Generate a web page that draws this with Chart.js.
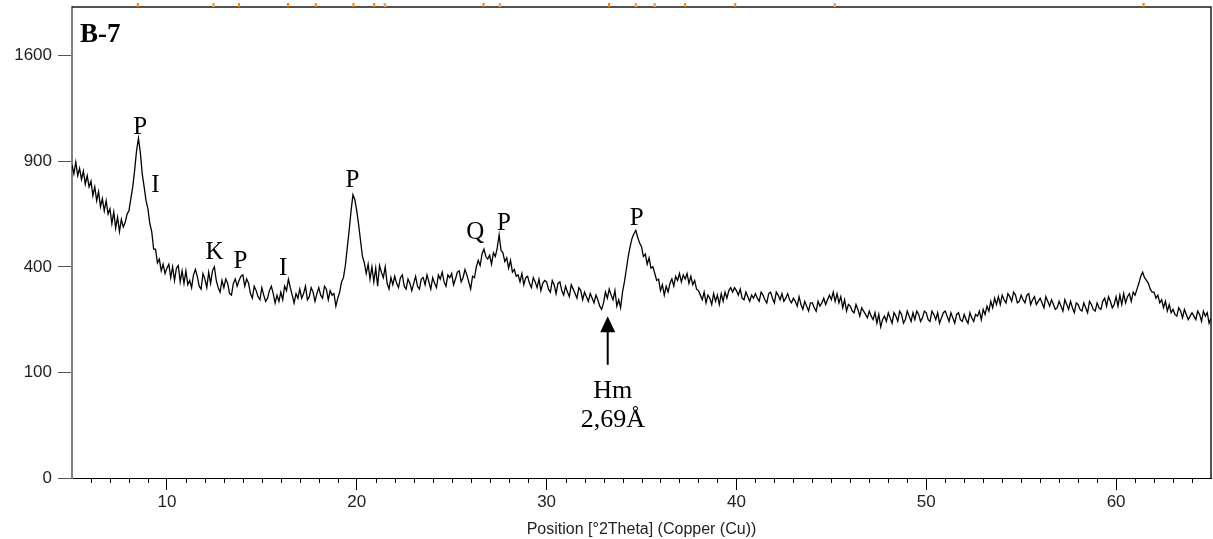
<!DOCTYPE html>
<html>
<head>
<meta charset="utf-8">
<script src="https://cdn.jsdelivr.net/npm/chart.js@4.4.1/dist/chart.umd.min.js"></script>
<style>
html, body { margin: 0; padding: 0; background: #fff; }
#wrap { width: 1213px; height: 539px; position: relative; }
</style>
</head>
<body>
<div id="wrap"><canvas id="xrdChart"></canvas></div>
<script>
// scan: 5 to 65 deg 2theta, 0.1 deg step
const startAngle = 5;
const stepAngle = 0.1;
const counts = [
  880, 830, 895, 820, 860, 800, 845, 775, 820, 760,
  790, 715, 760, 690, 735, 660, 700, 640, 690, 625,
  650, 580, 635, 560, 610, 545, 600, 565, 585, 625,
  640, 700, 760, 850, 960, 1035, 950, 830, 760, 690,
  650, 580, 545, 470, 470, 415, 430, 385, 410, 375,
  395, 410, 360, 400, 350, 395, 405, 345, 385, 340,
  385, 335, 350, 325, 370, 390, 365, 330, 320, 375,
  355, 325, 380, 340, 385, 400, 350, 325, 310, 350,
  325, 355, 340, 305, 300, 340, 355, 330, 350, 365,
  370, 330, 355, 340, 305, 290, 330, 315, 295, 285,
  325, 300, 280, 290, 315, 330, 305, 275, 300, 280,
  310, 285, 330, 315, 355, 325, 300, 275, 305, 290,
  320, 290, 305, 330, 285, 295, 325, 310, 280, 305,
  325, 300, 290, 330, 320, 285, 315, 300, 305, 265,
  290, 310, 345, 360, 405, 475, 550, 640, 720, 695,
  640, 575, 505, 440, 415, 375, 410, 355, 400, 345,
  395, 330, 405, 380, 360, 400, 340, 320, 360, 335,
  365, 340, 325, 360, 370, 330, 320, 355, 340, 315,
  340, 365, 330, 320, 355, 360, 335, 370, 345, 320,
  360, 340, 325, 370, 355, 380, 345, 330, 370, 360,
  375, 335, 355, 380, 385, 345, 360, 390, 370, 345,
  320, 365, 360, 400, 425, 405, 450, 470, 440, 430,
  445, 410, 455, 440, 475, 530, 465, 455, 420, 435,
  395, 425, 380, 390, 365, 370, 345, 375, 335, 360,
  365, 340, 325, 360, 345, 325, 355, 315, 340, 350,
  345, 320, 310, 350, 335, 305, 340, 345, 315, 300,
  330, 310, 295, 335, 320, 305, 290, 325, 315, 285,
  310, 295, 280, 305, 290, 275, 300, 285, 265, 255,
  275, 310, 290, 320, 300, 285, 315, 265, 285, 260,
  310, 345, 390, 440, 480, 515, 535, 550, 520, 495,
  480, 440, 450, 410, 435, 395, 400, 375, 350, 355,
  315, 335, 300, 330, 310, 340, 355, 330, 365, 350,
  375, 345, 370, 355, 375, 340, 365, 335, 350, 320,
  315, 300, 285, 310, 275, 300, 290, 270, 305, 280,
  300, 270, 305, 280, 310, 290, 315, 325, 310, 325,
  315, 300, 320, 290, 285, 310, 295, 280, 300, 290,
  305, 290, 280, 310, 300, 285, 275, 305, 310, 290,
  275, 310, 300, 285, 305, 280, 290, 305, 285, 275,
  290, 280, 265, 295, 270, 255, 280, 265, 250, 275,
  275, 260, 250, 280, 265, 275, 290, 270, 285, 300,
  285, 310, 280, 305, 275, 295, 260, 285, 250, 270,
  265, 250, 245, 270, 255, 235, 260, 250, 240, 230,
  250, 235, 225, 245, 215, 240, 205, 225, 235, 220,
  245, 230, 215, 245, 235, 220, 250, 240, 215, 225,
  250, 235, 220, 245, 225, 250, 240, 220, 230, 250,
  245, 225, 220, 250, 240, 225, 245, 215, 230, 245,
  250, 235, 220, 245, 230, 215, 240, 245, 225, 220,
  240, 225, 215, 245, 230, 220, 240, 235, 250, 225,
  255, 240, 265, 250, 280, 260, 290, 270, 295, 270,
  300, 285, 275, 305, 295, 280, 310, 300, 275, 280,
  300, 285, 275, 300, 305, 270, 285, 295, 270, 280,
  290, 275, 260, 295, 280, 265, 285, 270, 255, 260,
  280, 265, 250, 285, 270, 255, 280, 260, 245, 275,
  270, 255, 250, 275, 260, 245, 280, 270, 255, 250,
  275, 260, 255, 280, 290, 265, 295, 280, 260, 270,
  295, 265, 300, 270, 305, 275, 295, 305, 280, 310,
  300, 320, 340, 365, 380, 360, 350, 340, 320, 310,
  310, 290, 300, 275, 285, 260, 280, 250, 270, 245,
  255, 240, 235, 260, 250, 230, 255, 240, 225, 235,
  245, 235, 225, 250, 240, 220, 250, 235, 245, 215,
  230
];

const xTickValues = [10, 20, 30, 40, 50, 60];
const yTickValues = [0, 100, 400, 900, 1600];

// reference pattern markers along the top edge
const refPeaks = [8.47, 13.80, 16.38, 17.84, 19.83, 20.92, 26.68, 33.29, 37.30, 39.94, 61.45];
const refPeaksFaint = [12.46, 21.48, 27.54, 34.70, 35.69, 45.18];

// phase labels (x in deg, y in counts at text baseline)
const phaseLabels = ['P', 'I', 'K', 'P', 'I', 'P', 'Q', 'P', 'P'];
const phaseLabelX = [8.59, 9.40, 12.51, 13.88, 16.13, 19.77, 26.24, 27.75, 34.75];
const phaseLabelY = [1059, 733, 431, 396, 369, 761, 513, 551, 572];

const arrowX = 33.22;
const arrowTip = 235;
const arrowTail = 115;
const hmLines = ['Hm', '2,69Å'];
const hmX = 33.49;
const hmY = [58, 23];

// square-root intensity axis
class SqrtScale extends Chart.LinearScale {
  getPixelForValue(value) {
    const lo = Math.sqrt(Math.max(this.min, 0));
    const hi = Math.sqrt(this.max);
    return this.getPixelForDecimal((Math.sqrt(Math.max(value, 0)) - lo) / (hi - lo));
  }
  getValueForPixel(pixel) {
    const lo = Math.sqrt(Math.max(this.min, 0));
    const hi = Math.sqrt(this.max);
    const r = lo + this.getDecimalForPixel(pixel) * (hi - lo);
    return r * r;
  }
}
SqrtScale.id = 'sqrt';
SqrtScale.defaults = Chart.LinearScale.defaults;
Chart.register(SqrtScale);

const points = counts.map((c, i) => ({ x: +(startAngle + i * stepAngle).toFixed(2), y: c }));

const decorations = {
  id: 'decorations',
  afterDraw(chart) {
    const { ctx, chartArea: a, scales: { x, y } } = chart;
    ctx.save();

    // minor ticks every degree
    ctx.strokeStyle = '#000';
    ctx.lineWidth = 1;
    ctx.beginPath();
    for (let d = 6; d < 65; d++) {
      if (d % 10 === 0) continue;
      const px = Math.round(x.getPixelForValue(d)) + 0.5;
      ctx.moveTo(px, a.bottom);
      ctx.lineTo(px, a.bottom + 5);
    }
    ctx.stroke();

    // top and right frame
    ctx.strokeStyle = '#1a1a1a';
    ctx.lineWidth = 1.5;
    ctx.beginPath();
    ctx.moveTo(a.left, a.top);
    ctx.lineTo(a.right, a.top);
    ctx.lineTo(a.right, a.bottom);
    ctx.stroke();

    // reference markers
    ctx.lineWidth = 2;
    ctx.strokeStyle = '#ff8000';
    ctx.beginPath();
    refPeaks.forEach(v => {
      const px = x.getPixelForValue(v);
      ctx.moveTo(px, a.top - 4);
      ctx.lineTo(px, a.top);
    });
    ctx.stroke();
    ctx.strokeStyle = '#f3a65a';
    ctx.lineWidth = 2.5;
    ctx.beginPath();
    refPeaksFaint.forEach(v => {
      const px = x.getPixelForValue(v);
      ctx.moveTo(px, a.top - 4);
      ctx.lineTo(px, a.top);
    });
    ctx.stroke();

    // sample name
    ctx.fillStyle = '#000';
    ctx.font = 'bold 27px "Liberation Serif"';
    ctx.textAlign = 'left';
    ctx.textBaseline = 'alphabetic';
    ctx.fillText('B-7', a.left + 8, a.top + 35);

    // phase labels
    ctx.font = '25px "Liberation Serif"';
    ctx.textAlign = 'center';
    phaseLabels.forEach((t, i) => {
      ctx.fillText(t, x.getPixelForValue(phaseLabelX[i]), y.getPixelForValue(phaseLabelY[i]));
    });

    // hematite arrow
    const ax = x.getPixelForValue(arrowX);
    const tipY = y.getPixelForValue(arrowTip);
    const tailY = y.getPixelForValue(arrowTail);
    ctx.lineWidth = 2;
    ctx.strokeStyle = '#000';
    ctx.beginPath();
    ctx.moveTo(ax, tipY + 14);
    ctx.lineTo(ax, tailY);
    ctx.stroke();
    ctx.beginPath();
    ctx.moveTo(ax, tipY);
    ctx.lineTo(ax - 7.5, tipY + 16);
    ctx.lineTo(ax + 7.5, tipY + 16);
    ctx.closePath();
    ctx.fill();

    ctx.font = '26px "Liberation Serif"';
    hmLines.forEach((t, i) => {
      ctx.fillText(t, x.getPixelForValue(hmX), y.getPixelForValue(hmY[i]));
    });

    ctx.restore();
  }
};

new Chart(document.getElementById('xrdChart').getContext('2d'), {
  type: 'line',
  data: {
    datasets: [{
      data: points,
      borderColor: '#000',
      borderWidth: 1.3,
      pointRadius: 0,
      tension: 0,
      fill: false
    }]
  },
  options: {
    responsive: true,
    maintainAspectRatio: false,
    animation: false,
    layout: { padding: { top: 7, right: 2, left: 0, bottom: 0 } },
    plugins: {
      legend: { display: false },
      tooltip: { enabled: false }
    },
    scales: {
      x: {
        type: 'linear',
        min: 5,
        max: 65,
        afterBuildTicks: axis => { axis.ticks = xTickValues.map(v => ({ value: v })); },
        afterFit: axis => {
          axis.height = 61;
          axis.paddingLeft = 0;
          axis.paddingRight = 0;
        },
        grid: { drawOnChartArea: false, tickLength: 12, tickColor: '#000' },
        border: { color: '#000', width: 1 },
        ticks: {
          font: { family: 'Liberation Sans', size: 17 },
          color: '#222',
          padding: 2,
          maxRotation: 0,
          callback: v => String(v)
        },
        title: {
          display: true,
          text: 'Position [°2Theta] (Copper (Cu))',
          font: { family: 'Liberation Sans', size: 16 },
          color: '#222',
          padding: 0
        }
      },
      y: {
        type: 'sqrt',
        min: 0,
        max: 1990,
        afterBuildTicks: axis => { axis.ticks = yTickValues.map(v => ({ value: v })); },
        afterFit: axis => {
          axis.width = 72;
          axis.paddingTop = 0;
          axis.paddingBottom = 0;
        },
        grid: { drawOnChartArea: false, tickLength: 14, tickColor: '#555' },
        border: { color: '#808080', width: 2 },
        ticks: {
          font: { family: 'Liberation Sans', size: 17 },
          color: '#222',
          padding: 6,
          callback: v => String(v)
        }
      }
    }
  },
  plugins: [decorations]
});
</script>
</body>
</html>
